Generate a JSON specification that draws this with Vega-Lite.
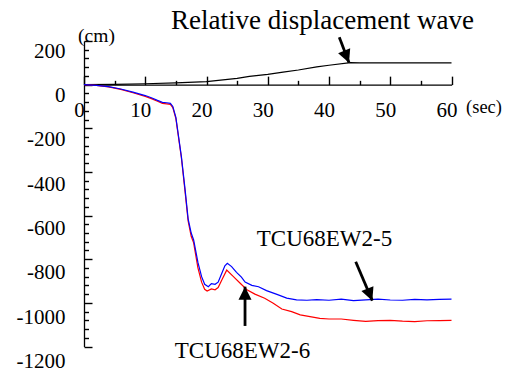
{
  "$schema": "https://vega.github.io/schema/vega-lite/v6.json",
  "width": 367.5,
  "height": 305.5,
  "autosize": {"type": "none"},
  "padding": {"left": 84, "top": 41, "right": 53.5, "bottom": 22.5},
  "background": "white",
  "config": {
    "view": {"stroke": null},
    "font": "Liberation Serif",
    "axis": {"grid": false, "title": null, "labelFont": "Liberation Serif", "labelFontSize": 21, "labelColor": "black", "tickColor": "black", "domainColor": "black", "tickWidth": 1.4, "domainWidth": 1.3, "labelFlush": false, "labelOverlap": false}
  },
  "datasets": {
    "curves": [
      {"s": "wave", "t": 0, "v": 0}, {"s": "wave", "t": 5, "v": 1}, {"s": "wave", "t": 10, "v": 4}, {"s": "wave", "t": 15, "v": 8},
      {"s": "wave", "t": 20, "v": 14}, {"s": "wave", "t": 25, "v": 29}, {"s": "wave", "t": 27, "v": 38}, {"s": "wave", "t": 30, "v": 47},
      {"s": "wave", "t": 32.5, "v": 57}, {"s": "wave", "t": 35, "v": 67}, {"s": "wave", "t": 38, "v": 81}, {"s": "wave", "t": 40, "v": 89},
      {"s": "wave", "t": 43.5, "v": 101}, {"s": "wave", "t": 45, "v": 100}, {"s": "wave", "t": 50, "v": 100}, {"s": "wave", "t": 55, "v": 100}, {"s": "wave", "t": 60, "v": 100},

      {"s": "TCU68EW2-6", "t": 0, "v": 0}, {"s": "TCU68EW2-6", "t": 2, "v": -3}, {"s": "TCU68EW2-6", "t": 4, "v": -10}, {"s": "TCU68EW2-6", "t": 6, "v": -22},
      {"s": "TCU68EW2-6", "t": 8, "v": -37}, {"s": "TCU68EW2-6", "t": 10, "v": -54}, {"s": "TCU68EW2-6", "t": 11, "v": -64}, {"s": "TCU68EW2-6", "t": 12, "v": -76},
      {"s": "TCU68EW2-6", "t": 12.8, "v": -86}, {"s": "TCU68EW2-6", "t": 13.5, "v": -88}, {"s": "TCU68EW2-6", "t": 14.1, "v": -90}, {"s": "TCU68EW2-6", "t": 14.5, "v": -105},
      {"s": "TCU68EW2-6", "t": 15, "v": -155}, {"s": "TCU68EW2-6", "t": 15.3, "v": -215}, {"s": "TCU68EW2-6", "t": 15.9, "v": -335}, {"s": "TCU68EW2-6", "t": 16.5, "v": -490},
      {"s": "TCU68EW2-6", "t": 17, "v": -625}, {"s": "TCU68EW2-6", "t": 17.5, "v": -695}, {"s": "TCU68EW2-6", "t": 17.9, "v": -725}, {"s": "TCU68EW2-6", "t": 18.6, "v": -840},
      {"s": "TCU68EW2-6", "t": 19.2, "v": -905}, {"s": "TCU68EW2-6", "t": 19.7, "v": -938}, {"s": "TCU68EW2-6", "t": 20.1, "v": -946}, {"s": "TCU68EW2-6", "t": 20.8, "v": -936},
      {"s": "TCU68EW2-6", "t": 21.4, "v": -940}, {"s": "TCU68EW2-6", "t": 21.9, "v": -930}, {"s": "TCU68EW2-6", "t": 22.5, "v": -895}, {"s": "TCU68EW2-6", "t": 23.3, "v": -850},
      {"s": "TCU68EW2-6", "t": 24.4, "v": -880}, {"s": "TCU68EW2-6", "t": 25.5, "v": -910}, {"s": "TCU68EW2-6", "t": 26.6, "v": -940}, {"s": "TCU68EW2-6", "t": 27.9, "v": -960},
      {"s": "TCU68EW2-6", "t": 29.5, "v": -979}, {"s": "TCU68EW2-6", "t": 30.9, "v": -1002}, {"s": "TCU68EW2-6", "t": 32.3, "v": -1028}, {"s": "TCU68EW2-6", "t": 33.9, "v": -1040},
      {"s": "TCU68EW2-6", "t": 35.3, "v": -1055}, {"s": "TCU68EW2-6", "t": 36.9, "v": -1063}, {"s": "TCU68EW2-6", "t": 38.5, "v": -1071}, {"s": "TCU68EW2-6", "t": 40, "v": -1074},
      {"s": "TCU68EW2-6", "t": 42, "v": -1074}, {"s": "TCU68EW2-6", "t": 44, "v": -1080}, {"s": "TCU68EW2-6", "t": 46, "v": -1085}, {"s": "TCU68EW2-6", "t": 48, "v": -1081},
      {"s": "TCU68EW2-6", "t": 50, "v": -1080}, {"s": "TCU68EW2-6", "t": 52, "v": -1084}, {"s": "TCU68EW2-6", "t": 54, "v": -1086}, {"s": "TCU68EW2-6", "t": 56, "v": -1082},
      {"s": "TCU68EW2-6", "t": 58, "v": -1081}, {"s": "TCU68EW2-6", "t": 60, "v": -1080},

      {"s": "TCU68EW2-5", "t": 0, "v": 0}, {"s": "TCU68EW2-5", "t": 2, "v": -3}, {"s": "TCU68EW2-5", "t": 4, "v": -9}, {"s": "TCU68EW2-5", "t": 6, "v": -20},
      {"s": "TCU68EW2-5", "t": 8, "v": -34}, {"s": "TCU68EW2-5", "t": 10, "v": -50}, {"s": "TCU68EW2-5", "t": 11, "v": -60}, {"s": "TCU68EW2-5", "t": 12, "v": -72},
      {"s": "TCU68EW2-5", "t": 12.8, "v": -81}, {"s": "TCU68EW2-5", "t": 13.5, "v": -83}, {"s": "TCU68EW2-5", "t": 14.1, "v": -86}, {"s": "TCU68EW2-5", "t": 14.5, "v": -100},
      {"s": "TCU68EW2-5", "t": 15, "v": -150}, {"s": "TCU68EW2-5", "t": 15.3, "v": -210}, {"s": "TCU68EW2-5", "t": 15.9, "v": -330}, {"s": "TCU68EW2-5", "t": 16.5, "v": -480},
      {"s": "TCU68EW2-5", "t": 17, "v": -615}, {"s": "TCU68EW2-5", "t": 17.5, "v": -680}, {"s": "TCU68EW2-5", "t": 17.9, "v": -712}, {"s": "TCU68EW2-5", "t": 18.6, "v": -815},
      {"s": "TCU68EW2-5", "t": 19.2, "v": -880}, {"s": "TCU68EW2-5", "t": 19.7, "v": -915}, {"s": "TCU68EW2-5", "t": 20.3, "v": -926}, {"s": "TCU68EW2-5", "t": 20.8, "v": -912},
      {"s": "TCU68EW2-5", "t": 21.4, "v": -915}, {"s": "TCU68EW2-5", "t": 21.9, "v": -905}, {"s": "TCU68EW2-5", "t": 22.5, "v": -864}, {"s": "TCU68EW2-5", "t": 23, "v": -830},
      {"s": "TCU68EW2-5", "t": 23.4, "v": -819}, {"s": "TCU68EW2-5", "t": 24.1, "v": -834}, {"s": "TCU68EW2-5", "t": 24.9, "v": -860}, {"s": "TCU68EW2-5", "t": 25.7, "v": -882},
      {"s": "TCU68EW2-5", "t": 26.3, "v": -905}, {"s": "TCU68EW2-5", "t": 27.4, "v": -920}, {"s": "TCU68EW2-5", "t": 28.5, "v": -926}, {"s": "TCU68EW2-5", "t": 29.8, "v": -944},
      {"s": "TCU68EW2-5", "t": 31.5, "v": -961}, {"s": "TCU68EW2-5", "t": 33.1, "v": -978}, {"s": "TCU68EW2-5", "t": 34.7, "v": -986}, {"s": "TCU68EW2-5", "t": 36.4, "v": -988},
      {"s": "TCU68EW2-5", "t": 38, "v": -985}, {"s": "TCU68EW2-5", "t": 40, "v": -988}, {"s": "TCU68EW2-5", "t": 42, "v": -983}, {"s": "TCU68EW2-5", "t": 44, "v": -990},
      {"s": "TCU68EW2-5", "t": 46, "v": -986}, {"s": "TCU68EW2-5", "t": 48, "v": -983}, {"s": "TCU68EW2-5", "t": 50, "v": -987}, {"s": "TCU68EW2-5", "t": 52, "v": -988},
      {"s": "TCU68EW2-5", "t": 54, "v": -984}, {"s": "TCU68EW2-5", "t": 56, "v": -986}, {"s": "TCU68EW2-5", "t": 58, "v": -984}, {"s": "TCU68EW2-5", "t": 60, "v": -983}
    ],
    "arrows": [
      {"name": "wave", "t": 41.68, "v": 216.7, "t2": 43.27, "v2": 100.3},
      {"name": "s5", "t": 44.36, "v": -811.3, "t2": 47.07, "v2": -989.9},
      {"name": "up", "t": 26.29, "v": -1105.8, "t2": 26.29, "v2": -925.8}
    ],
    "notes": [
      {"kind": "title", "label": "Relative displacement wave", "t": 38.94, "v": 253.3},
      {"kind": "cm", "label": "(cm)", "t": 2.04, "v": 197.4},
      {"kind": "sec", "label": "(sec)", "t": 65.3, "v": -127.8},
      {"kind": "series", "label": "TCU68EW2-5", "t": 39.27, "v": -739.3},
      {"kind": "series", "label": "TCU68EW2-6", "t": 25.88, "v": -1253.8}
    ]
  },
  "resolve": {"axis": {"x": "independent", "y": "independent"}},
  "layer": [
    {
      "data": {"name": "curves"},
      "mark": {"type": "line", "strokeWidth": 1.2},
      "encoding": {
        "x": {"field": "t", "type": "quantitative", "scale": {"domain": [0, 60], "nice": false, "zero": false},
          "axis": {"orient": "bottom", "offset": -261.86, "values": [0, 10, 20, 30, 40, 50, 60], "ticks": false, "labelPadding": 14.5, "labelBaseline": "top", "labelOffset": -5}},
        "y": {"field": "v", "type": "quantitative", "scale": {"domain": [-1200, 200], "nice": false, "zero": false},
          "axis": {"orient": "left", "values": [-1200, -1000, -800, -600, -400, -200, 0, 200], "labelExpr": "'' + datum.value", "ticks": false, "labelPadding": 19, "labelOffset": {"expr": "10 + (200 - datum.value) * 0.0035"}, "labelBaseline": "middle"}},
        "color": {"field": "s", "type": "nominal", "scale": {"domain": ["wave", "TCU68EW2-5", "TCU68EW2-6"], "range": ["#000000", "#0000ff", "#ff0000"]}, "legend": null}
      }
    },
    {
      "data": {"name": "arrows"},
      "mark": {"type": "rule", "strokeWidth": 2.8, "color": "black"},
      "encoding": {
        "x": {"field": "t", "type": "quantitative",
          "axis": {"orient": "top", "offset": -43.64, "values": [0, 10, 20, 30, 40, 50, 60], "ticks": true, "tickSize": 8.5, "labels": false, "domain": false}},
        "y": {"field": "v", "type": "quantitative",
          "axis": {"orient": "right", "offset": -367.5, "values": [-1200, -1000, -800, -600, -400, -200, 0, 200], "ticks": true, "tickSize": 8, "labels": false, "domain": false}},
        "x2": {"field": "t2"},
        "y2": {"field": "v2"}
      }
    },
    {
      "data": {"name": "arrows"},
      "transform": [{"filter": "datum.name != 'up'"}],
      "mark": {"type": "point", "shape": "M0,0L1.3,2.6L-1.3,2.6Z", "size": 100, "filled": true, "color": "black", "opacity": 1, "angle": 158},
      "encoding": {
        "x": {"field": "t2", "type": "quantitative",
          "axis": {"orient": "top", "offset": -43.64, "values": [5, 15, 25, 35, 45, 55], "ticks": true, "tickSize": 4.3, "labels": false, "domain": false}},
        "y": {"field": "v2", "type": "quantitative",
          "axis": {"orient": "right", "offset": -367.5, "values": [-1160, -1120, -1080, -1040, -960, -920, -880, -840, -760, -720, -680, -640, -560, -520, -480, -440, -360, -320, -280, -240, -160, -120, -80, -40, 40, 80, 120, 160], "ticks": true, "tickSize": 4.5, "labels": false, "domain": false}}
      }
    },
    {
      "data": {"name": "arrows"},
      "transform": [{"filter": "datum.name == 'up'"}],
      "mark": {"type": "point", "shape": "M0,0L1.3,2.6L-1.3,2.6Z", "size": 100, "filled": true, "color": "black", "opacity": 1, "angle": 0},
      "encoding": {
        "x": {"field": "t2", "type": "quantitative", "axis": null},
        "y": {"field": "v2", "type": "quantitative", "axis": null}
      }
    },
    {
      "data": {"name": "notes"},
      "transform": [{"filter": "datum.kind == 'title'"}],
      "mark": {"type": "text", "font": "Liberation Serif", "fontSize": 27, "color": "black", "baseline": "alphabetic", "align": "center"},
      "encoding": {
        "x": {"field": "t", "type": "quantitative", "axis": null},
        "y": {"field": "v", "type": "quantitative", "axis": null},
        "text": {"field": "label"}
      }
    },
    {
      "data": {"name": "notes"},
      "transform": [{"filter": "datum.kind == 'cm'"}],
      "mark": {"type": "text", "font": "Liberation Serif", "fontSize": 19.5, "color": "black", "baseline": "alphabetic", "align": "center"},
      "encoding": {
        "x": {"field": "t", "type": "quantitative", "axis": null},
        "y": {"field": "v", "type": "quantitative", "axis": null},
        "text": {"field": "label"}
      }
    },
    {
      "data": {"name": "notes"},
      "transform": [{"filter": "datum.kind == 'sec'"}],
      "mark": {"type": "text", "font": "Liberation Serif", "fontSize": 18.4, "color": "black", "baseline": "alphabetic", "align": "center"},
      "encoding": {
        "x": {"field": "t", "type": "quantitative", "axis": null},
        "y": {"field": "v", "type": "quantitative", "axis": null},
        "text": {"field": "label"}
      }
    },
    {
      "data": {"name": "notes"},
      "transform": [{"filter": "datum.kind == 'series'"}],
      "mark": {"type": "text", "font": "Liberation Serif", "fontSize": 23, "color": "black", "baseline": "alphabetic", "align": "center"},
      "encoding": {
        "x": {"field": "t", "type": "quantitative", "axis": null},
        "y": {"field": "v", "type": "quantitative", "axis": null},
        "text": {"field": "label"}
      }
    }
  ]
}
